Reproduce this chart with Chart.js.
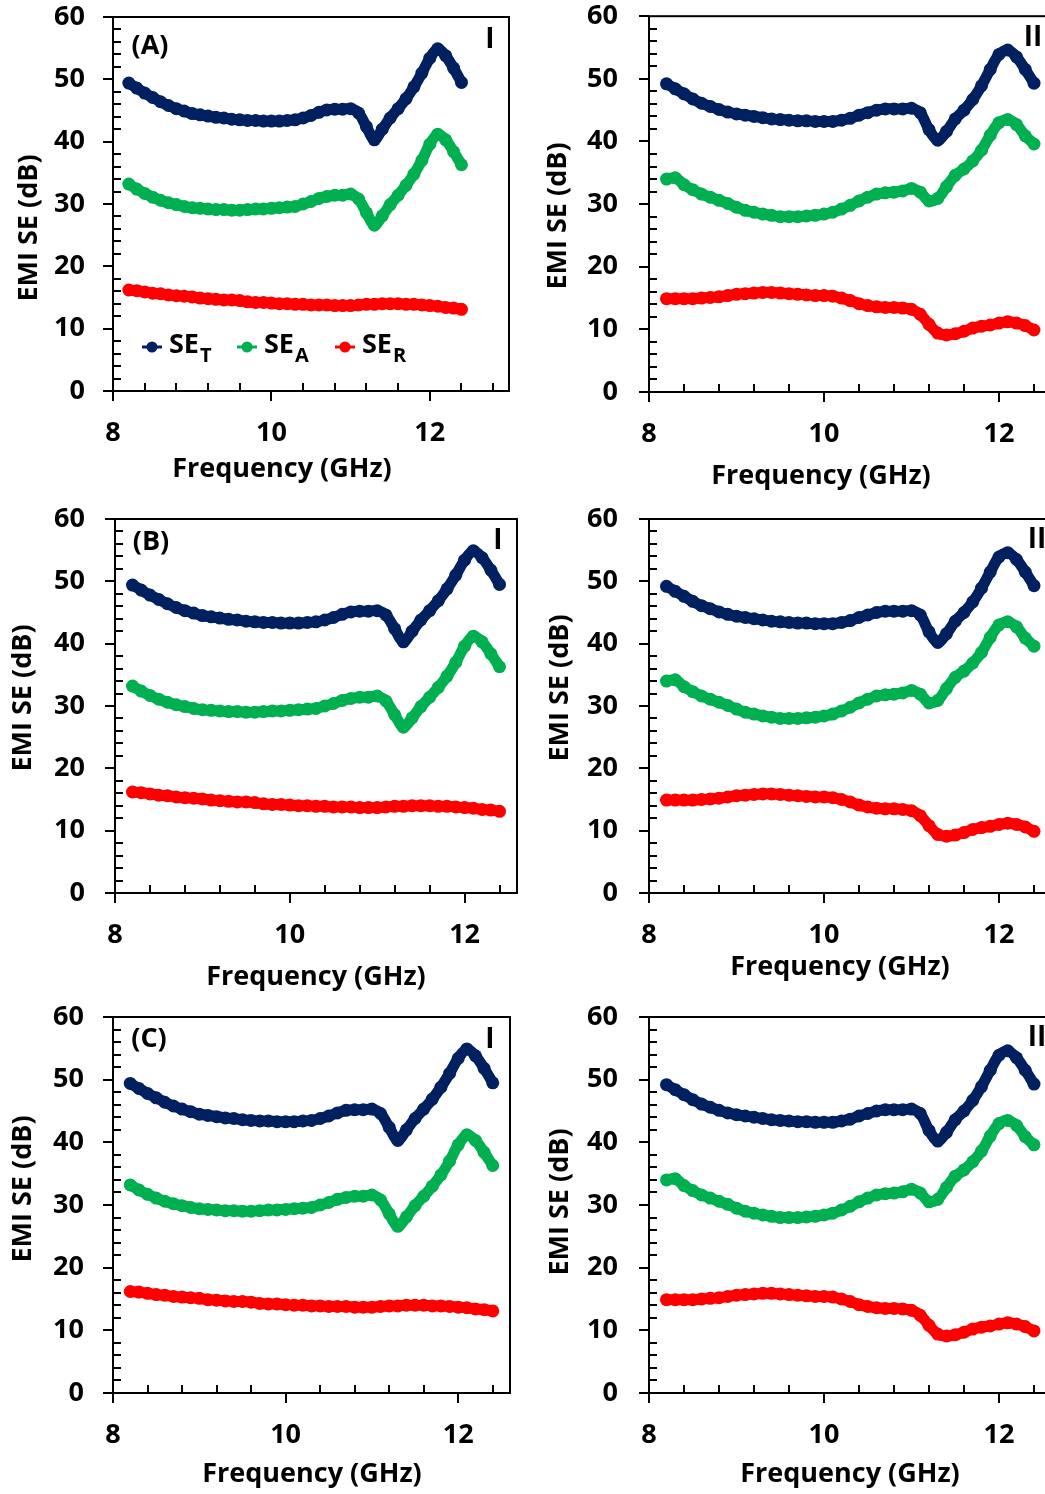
<!DOCTYPE html>
<html>
<head>
<meta charset="utf-8">
<title>EMI SE</title>
<script src="https://cdn.jsdelivr.net/npm/chart.js@4.4.1/dist/chart.umd.min.js"></script>
<style>
  html, body { margin: 0; padding: 0; background: #fff; }
  body { width: 1045px; height: 1494px; overflow: hidden; position: relative; }
  canvas { position: absolute; }
</style>
</head>
<body>
<canvas id="pA1"></canvas>
<canvas id="pA2"></canvas>
<canvas id="pB1"></canvas>
<canvas id="pB2"></canvas>
<canvas id="pC1"></canvas>
<canvas id="pC2"></canvas>
<script>
// frequency (GHz)
const freq = [8.2, 8.3, 8.4, 8.5, 8.6, 8.7, 8.8, 8.9,
  9.0, 9.1, 9.2, 9.3, 9.4, 9.5, 9.6, 9.7, 9.8, 9.9,
  10.0, 10.1, 10.2, 10.3, 10.4, 10.5, 10.6, 10.7, 10.8, 10.9,
  11.0, 11.1, 11.2, 11.3, 11.4, 11.5, 11.6, 11.7, 11.8, 11.9,
  12.0, 12.1, 12.2, 12.3, 12.4];

// sample I
const seT1 = [49.4, 48.6, 47.8, 47.1, 46.4, 45.8, 45.3, 44.9,
  44.5, 44.3, 44.1, 43.9, 43.8, 43.6, 43.5, 43.4, 43.4, 43.3,
  43.3, 43.3, 43.4, 43.5, 43.8, 44.2, 44.7, 45.1, 45.2, 45.2,
  45.3, 44.6, 42.4, 40.3, 42.0, 43.8, 45.3, 46.9, 48.8, 51.0,
  53.4, 54.9, 53.8, 51.8, 49.5];
const seA1 = [33.2, 32.4, 31.7, 31.1, 30.6, 30.2, 29.9, 29.6,
  29.4, 29.3, 29.2, 29.1, 29.1, 29.0, 29.0, 29.1, 29.2, 29.2,
  29.3, 29.4, 29.5, 29.6, 30.0, 30.4, 30.9, 31.2, 31.4, 31.4,
  31.6, 30.8, 28.6, 26.6, 28.1, 29.9, 31.4, 33.0, 34.8, 37.0,
  39.6, 41.2, 40.3, 38.4, 36.3];
const seR1 = [16.2, 16.1, 15.9, 15.7, 15.6, 15.4, 15.3, 15.2,
  15.1, 14.9, 14.8, 14.7, 14.6, 14.6, 14.5, 14.3, 14.2, 14.2,
  14.1, 14.0, 14.0, 13.9, 13.9, 13.8, 13.8, 13.8, 13.7, 13.7,
  13.7, 13.8, 13.9, 13.9, 14.0, 14.0, 14.0, 13.9, 13.9, 13.8,
  13.7, 13.6, 13.4, 13.3, 13.1];

// sample II
const seT2 = [49.2, 48.4, 47.6, 46.8, 46.1, 45.6, 45.1, 44.7,
  44.4, 44.2, 44.0, 43.8, 43.6, 43.5, 43.4, 43.3, 43.3, 43.2,
  43.2, 43.2, 43.4, 43.7, 44.2, 44.6, 45.0, 45.2, 45.2, 45.2,
  45.3, 44.6, 41.9, 40.2, 41.6, 43.6, 45.0, 46.7, 48.9, 51.5,
  53.9, 54.6, 53.5, 51.5, 49.3];
const seA2 = [34.0, 34.2, 33.1, 32.3, 31.6, 31.1, 30.6, 30.1,
  29.5, 29.0, 28.7, 28.4, 28.2, 28.0, 28.0, 28.0, 28.1, 28.2,
  28.4, 28.7, 29.2, 29.8, 30.5, 31.1, 31.6, 31.8, 31.9, 32.1,
  32.5, 31.9, 30.5, 30.9, 32.8, 34.6, 35.6, 36.9, 38.6, 41.0,
  43.0, 43.5, 42.7, 40.9, 39.6];
const seR2 = [14.9, 14.9, 14.9, 14.9, 15.0, 15.1, 15.2, 15.4,
  15.6, 15.7, 15.8, 15.9, 15.9, 15.8, 15.7, 15.6, 15.5, 15.4,
  15.4, 15.3, 15.0, 14.6, 14.1, 13.8, 13.6, 13.5, 13.5, 13.4,
  13.2, 12.4, 10.8, 9.4, 9.1, 9.3, 9.7, 10.2, 10.5, 10.7,
  11.0, 11.2, 11.0, 10.6, 9.9];

const xTickValues = [8, 10, 12];
const yTickValues = [0, 10, 20, 30, 40, 50, 60];
const seriesSubs = ['T', 'A', 'R'];
const seriesColors = ['#002060', '#00B050', '#FF0000'];

const FONT = '"Open Sans", "DejaVu Sans", sans-serif';
const FS = 27;

// panel layout, page coordinates
const panels = [
  { id: 'pA1', left: 0, top: 0, w: 530, h: 495, area: [113, 17, 509, 391], xMax: 13, yPad: 28, data: [seT1, seA1, seR1],
    tag: '(A)', tagPos: [150, 46], num: 'I', numPos: [490, 40], xTitlePos: [282, 469], yTitlePos: [29, 228], legend: true },
  { id: 'pA2', left: 530, top: 0, w: 540, h: 495, area: [649, 16, 1051.5, 392], xMax: 12.6, yPad: 31, data: [seT2, seA2, seR2],
    num: 'II', numPos: [1033, 38], xTitlePos: [821, 476], yTitlePos: [558, 216] },
  { id: 'pB1', left: 0, top: 495, w: 530, h: 500, area: [115, 519, 517, 893], xMax: 12.6, yPad: 30, data: [seT1, seA1, seR1],
    tag: '(B)', tagPos: [151, 542], num: 'I', numPos: [498, 541], xTitlePos: [316, 977], yTitlePos: [23, 698] },
  { id: 'pB2', left: 530, top: 495, w: 540, h: 500, area: [649, 519, 1051.5, 893], xMax: 12.6, yPad: 31, data: [seT2, seA2, seR2],
    num: 'II', numPos: [1037, 540], xTitlePos: [840, 967], yTitlePos: [560, 688] },
  { id: 'pC1', left: 0, top: 995, w: 530, h: 499, area: [113, 1017, 510, 1393], xMax: 12.6, yPad: 29, data: [seT1, seA1, seR1],
    tag: '(C)', tagPos: [149, 1039], num: 'I', numPos: [490, 1040], xTitlePos: [312, 1474], yTitlePos: [23, 1189] },
  { id: 'pC2', left: 530, top: 995, w: 540, h: 499, area: [649, 1017, 1051.5, 1393], xMax: 12.6, yPad: 31, data: [seT2, seA2, seR2],
    num: 'II', numPos: [1037, 1038], xTitlePos: [850, 1474], yTitlePos: [560, 1202] }
];

// box, inside minor ticks, outside major ticks
const axisBox = {
  id: 'axisBox',
  beforeDatasetsDraw(chart) {
    const { ctx, chartArea: a, scales: { x, y } } = chart;
    ctx.save();
    ctx.strokeStyle = '#000';
    ctx.lineWidth = 2;
    ctx.strokeRect(a.left, a.top, a.right - a.left, a.bottom - a.top);
    ctx.beginPath();
    for (let v = 0; v <= 60; v += 2) {
      const py = Math.round(y.getPixelForValue(v));
      if (v % 10 === 0) { ctx.moveTo(a.left - 10, py); ctx.lineTo(a.left, py); }
      else { ctx.moveTo(a.left, py); ctx.lineTo(a.left + 8, py); }
    }
    for (let k = 0; 8 + k * 0.4 <= x.max + 1e-6; k++) {
      const px = Math.round(x.getPixelForValue(8 + k * 0.4));
      if (k % 5 === 0) { ctx.moveTo(px, a.bottom); ctx.lineTo(px, a.bottom + 10); }
      else { ctx.moveTo(px, a.bottom); ctx.lineTo(px, a.bottom - 8); }
    }
    ctx.stroke();
    ctx.restore();
  },
  afterDraw(chart, args, o) {
    const ctx = chart.ctx;
    ctx.save();
    ctx.fillStyle = '#000';
    ctx.textAlign = 'center';
    ctx.textBaseline = 'middle';
    ctx.font = 'bold ' + FS + 'px ' + FONT;
    ctx.fillText('Frequency (GHz)', o.xTitlePos[0], o.xTitlePos[1]);
    ctx.save();
    ctx.translate(o.yTitlePos[0], o.yTitlePos[1]);
    ctx.rotate(-Math.PI / 2);
    ctx.fillText('EMI SE (dB)', 0, 0);
    ctx.restore();
    if (o.tag) {
      ctx.fillText(o.tag, o.tagPos[0], o.tagPos[1]);
    }
    ctx.font = 'bold 28px ' + FONT;
    ctx.fillText(o.num, o.numPos[0], o.numPos[1]);
    if (o.legend) {
      const ly = 347 - o.offY;
      const marks = [152, 247, 345];
      chart.data.datasets.forEach((ds, i) => {
        const mx = marks[i] - o.offX;
        ctx.strokeStyle = ds.borderColor;
        ctx.fillStyle = ds.borderColor;
        ctx.lineWidth = 3;
        ctx.beginPath();
        ctx.moveTo(mx - 10, ly); ctx.lineTo(mx + 10, ly);
        ctx.stroke();
        ctx.beginPath();
        ctx.arc(mx, ly, 5.5, 0, Math.PI * 2);
        ctx.fill();
        ctx.fillStyle = '#000';
        ctx.textAlign = 'left';
        ctx.font = 'bold 27px ' + FONT;
        ctx.fillText('SE', mx + 17, ly - 2);
        const w = ctx.measureText('SE').width;
        ctx.font = 'bold 20px ' + FONT;
        ctx.fillText(seriesSubs[i], mx + 18 + w, ly + 9);
      });
    }
    ctx.restore();
  }
};

function makeChart(p) {
  const canvas = document.getElementById(p.id);
  canvas.width = p.w;
  canvas.height = p.h;
  canvas.style.left = p.left + 'px';
  canvas.style.top = p.top + 'px';
  const aL = p.area[0] - p.left, aT = p.area[1] - p.top;
  const aR = p.area[2] - p.left, aB = p.area[3] - p.top;
  const loc = (pt) => [pt[0] - p.left, pt[1] - p.top];

  const datasets = p.data.map((arr, i) => ({
    label: 'SE' + seriesSubs[i],
    data: freq.map((f, j) => ({ x: f, y: arr[j] })),
    borderColor: seriesColors[i],
    backgroundColor: seriesColors[i],
    pointBackgroundColor: seriesColors[i],
    borderWidth: 11,
    pointRadius: 6.5,
    pointBorderWidth: 0,
    tension: 0.3,
    fill: false
  }));

  const tickFont = { family: FONT, size: FS, weight: 'bold' };

  return new Chart(canvas.getContext('2d'), {
    type: 'line',
    data: { datasets },
    options: {
      responsive: false,
      animation: false,
      layout: { autoPadding: false, padding: { left: 0, top: aT, right: p.w - aR, bottom: 0 } },
      plugins: {
        legend: { display: false },
        tooltip: { enabled: false },
        axisBox: {
          xTitlePos: loc(p.xTitlePos), yTitlePos: loc(p.yTitlePos),
          tag: p.tag, tagPos: p.tagPos ? loc(p.tagPos) : null,
          num: p.num, numPos: loc(p.numPos),
          legend: !!p.legend, offX: p.left, offY: p.top
        }
      },
      scales: {
        x: {
          type: 'linear', min: 8, max: p.xMax,
          afterBuildTicks: (s) => { s.ticks = xTickValues.map(v => ({ value: v })); },
          afterFit: (s) => { s.height = p.h - aB; },
          grid: { display: false, drawTicks: true, tickLength: 26 },
          border: { display: false },
          ticks: { padding: 0, color: '#000', font: tickFont, maxRotation: 0, autoSkip: false }
        },
        y: {
          min: 0, max: 60,
          afterBuildTicks: (s) => { s.ticks = yTickValues.map(v => ({ value: v })); },
          afterFit: (s) => { s.width = aL; },
          grid: { display: false, drawTicks: true, tickLength: p.yPad },
          border: { display: false },
          ticks: { padding: 0, color: '#000', font: tickFont }
        }
      }
    },
    plugins: [axisBox]
  });
}

panels.forEach(makeChart);
</script>
</body>
</html>
